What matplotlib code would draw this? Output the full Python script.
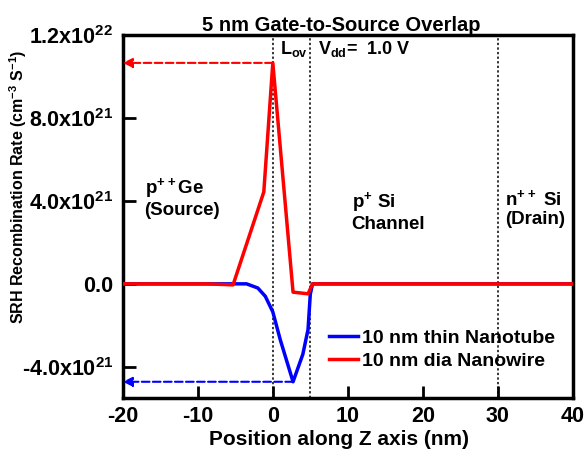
import numpy as np
import matplotlib
matplotlib.use("Agg")
import matplotlib.pyplot as plt

plt.rcParams['font.family'] = ['Liberation Sans', 'DejaVu Sans']
plt.rcParams['font.weight'] = 'bold'
plt.rcParams['mathtext.default'] = 'regular'
plt.rcParams['axes.unicode_minus'] = False

# SRH recombination rate along Z (nm), values in cm^-3 s^-1
z_wire = [-20, -8.7, -5.3, -1.2, 0.0, 2.7, 4.7, 5.3, 40]
srh_wire = [0, 0, -0.05e21, 4.43e21, 10.65e21, -0.40e21, -0.48e21, 0, 0]

z_tube = [-20, -3.5, -2.0, -1.0, 0.0, 1.0, 2.7, 4.0, 4.7, 5.0, 5.3, 40]
srh_tube = [0, 0, -0.2e21, -0.6e21, -1.35e21, -2.7e21, -4.72e21, -3.4e21, -2.2e21, -0.5e21, 0, 0]

region_lines = [0, 5, 30]
yticks = [-4e21, 0, 4e21, 8e21, 1.2e22]
ytick_labels = ['-4.0x10$^{21}$', '0.0', '4.0x10$^{21}$', '8.0x10$^{21}$', '1.2x10$^{22}$']
xticks = [-20, -10, 0, 10, 20, 30, 40]

fig = plt.figure(figsize=(5.85, 4.59), dpi=100)
ax = fig.add_axes([0.210, 0.133, 0.769, 0.791])

for xv in region_lines:
    ax.axvline(xv, color='black', ls=(0, (1.5, 1.5)), lw=1.1, zorder=1)

ax.plot(z_tube, srh_tube, color='#0000ff', lw=2.5, label='10 nm thin Nanotube', zorder=3)
ax.plot(z_wire, srh_wire, color='#ff0000', lw=2.5, label='10 nm dia Nanowire', zorder=4)

# dashed arrows pointing to the y axis
peak = max(srh_wire)
low = min(srh_tube)
ax.annotate('', xy=(-20, peak), xytext=(z_wire[srh_wire.index(peak)], peak),
            arrowprops=dict(arrowstyle='-|>', color='#ff0000', ls='--', lw=1.5,
                            mutation_scale=14, shrinkA=0, shrinkB=0))
ax.annotate('', xy=(-20, low), xytext=(z_tube[srh_tube.index(low)], low),
            arrowprops=dict(arrowstyle='-|>', color='#0000ff', ls='--', lw=1.5,
                            mutation_scale=14, shrinkA=0, shrinkB=0))

ax.set_xlim(-20, 40)
ax.set_ylim(-5.5e21, 1.2e22)
ax.set_xticks(xticks)
ax.set_yticks(yticks)
ax.set_yticklabels(ytick_labels)
ax.tick_params(direction='in', length=9, width=2, labelsize=15.5, pad=7)
ax.tick_params(axis='x', pad=6)
for s in ax.spines.values():
    s.set_linewidth(2.5)

ax.set_title('5 nm Gate-to-Source Overlap', fontsize=14.5, fontweight='bold', pad=3, x=0.485)
ax.set_xlabel('Position along Z axis (nm)', fontsize=15, fontweight='bold')
ax.xaxis.set_label_coords(0.48, -0.087)
ax.set_ylabel('SRH Recombination Rate (cm$^{-3}$ S$^{-1}$)', fontsize=11.5, fontweight='bold')
ax.yaxis.set_label_coords(-0.208, 0.58)

ax.text(0.9, 1.13e22, 'L$_{ov}$', fontsize=13, va='center')
ax.text(6.0, 1.13e22, 'V$_{dd}$=  1.0 V', fontsize=13, va='center')
ax.text(-17.1, 4.15e21, 'p$^{++}$Ge\n(Source)', fontsize=13.5, va='center', linespacing=1.15)
ax.text(10.5, 3.5e21, 'p$^{+}$ Si\nChannel', fontsize=13.5, va='center', linespacing=1.15)
ax.text(31.0, 3.65e21, 'n$^{++}$ Si\n(Drain)', fontsize=13.5, va='center', linespacing=1.15)

ax.legend(loc='lower right', bbox_to_anchor=(1.0, 0.03), frameon=False, fontsize=14,
          handlelength=1.5, handletextpad=0.2, labelspacing=0.25)

fig.savefig('out.png', dpi=100)
